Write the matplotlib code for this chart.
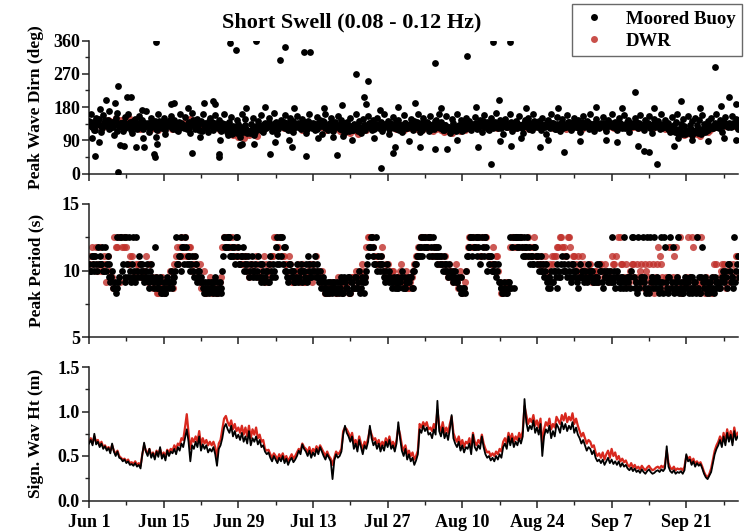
import numpy as np
import matplotlib
matplotlib.use("Agg")
import matplotlib.pyplot as plt
from matplotlib.ticker import MultipleLocator, FixedLocator
from matplotlib.lines import Line2D

plt.rcParams['font.family'] = ['Liberation Serif', 'DejaVu Serif']
plt.rcParams['font.weight'] = 'bold'

# ---------------- data ----------------
title = "Short Swell (0.08 - 0.12 Hz)"
series_names = ["Moored Buoy", "DWR"]
xtick_days = [0, 14, 28, 42, 56, 70, 84, 98, 112]
xtick_labels = ["Jun 1", "Jun 15", "Jun 29", "Jul 13", "Jul 27", "Aug 10", "Aug 24", "Sep 7", "Sep 21"]
ylabels = ["Peak Wave Dirn (deg)", "Peak Period (s)", "Sign. Wav Ht (m)"]

# peak wave direction, moored buoy (3 samples / day, on the 8-hourly grid)
buoy_dir = [
 142,160,125,118,150,135,130,112,158,145,128,170,122,140,105,150,165,128,
 138,115,152,126,160,140,110,135,148,120,155,132,145,125,168,138,112,150,
 128,142,118,160,135,124,150,108,140,132,156,120,145,130,115,162,138,126,
 152,120,140,110,165,135,128,148,118,142,160,126,135,112,150,140,122,158,
 130,145,115,138,162,124,105,140,152,128,118,145,135,100,160,122,148,110,
 115,135,150,105,128,142,120,158,112,138,126,150,132,115,165,140,108,130,
 145,125,158,132,118,150,140,112,128,155,135,120,148,130,110,142,160,125,
 136,118,152,128,145,108,140,162,122,132,150,115,138,126,155,120,145,130,
 112,140,128,150,118,135,160,125,142,110,148,132,126,155,138,118,145,128,
 150,122,138,115,160,130,142,108,128,152,135,120,145,128,112,158,136,124,
 130,148,118,142,125,160,112,138,150,126,140,115,155,132,120,145,128,162,
 140,118,132,155,125,110,148,136,122,160,130,145,115,138,150,126,142,118,
 135,152,120,128,145,112,158,132,140,118,150,126,138,165,122,145,130,108,
 148,125,138,160,115,132,142,122,155,130,110,145,128,150,136,118,162,140,
 125,142,118,150,132,108,145,128,160,138,120,152,130,115,148,135,125,158,
 140,118,132,150,126,145,112,138,155,128,142,120,160,135,115,148,130,122,
 138,152,125,115,145,132,160,128,140,118,150,135,122,158,130,145,112,138,
 128,150,140,122,158,132,118,145,136,155,125,110,148,130,142,120,160,135,
 145,125,138,112,152,130,140,162,120,135,148,128,118,155,132,142,110,150,
 130,145,120,158,135,115,142,128,150,122,138,160,126,145,112,140,152,130,
 138,125,155,132,148,120]
# peak wave direction, moored buoy (the in-between records, 3 / day)
buoy_dir_mid = [
 132,125,140,118,135,148,128,122,138,130,145,120,135,126,142,115,130,138,
 126,140,122,135,130,118,142,128,136,124,132,145,120,138,128,134,122,140,
 135,120,130,142,126,138,118,132,128,145,124,136,130,118,140,126,134,122,
 128,138,124,132,145,120,135,128,140,116,130,136,124,142,130,118,138,126,
 122,130,118,126,135,112,120,128,108,116,124,110,118,126,112,130,120,115,
 110,118,125,112,120,130,118,126,135,122,128,140,132,124,138,128,120,134,
 130,140,124,136,128,118,142,130,126,138,122,134,128,140,120,132,136,124,
 126,134,120,138,128,142,124,130,118,136,128,122,140,130,126,134,118,138,
 120,126,115,128,118,124,130,116,126,122,132,118,128,136,124,130,120,134,
 132,126,140,122,134,128,120,136,130,124,142,128,118,132,126,138,124,130,
 128,136,122,130,140,124,132,118,128,138,126,134,120,130,142,126,136,122,
 124,118,130,122,126,114,120,128,116,124,132,118,126,120,130,124,134,128,
 130,138,124,134,128,142,126,132,120,136,130,124,140,128,134,122,130,138,
 126,134,128,140,122,132,136,126,130,124,138,128,132,120,134,128,142,130,
 128,136,122,132,126,140,130,124,136,128,120,134,130,138,124,132,126,140,
 132,124,138,128,134,122,130,140,126,132,128,136,124,130,138,126,134,128,
 130,136,124,132,128,138,126,134,122,130,136,128,132,124,140,130,126,134,
 128,134,126,138,130,124,132,128,136,122,130,134,126,138,128,132,124,130,
 126,120,128,116,122,112,118,110,114,106,112,108,116,110,120,104,112,118,
 110,116,106,120,112,124,118,128,122,132,126,130,124,134,128,136,130,126,
 132,128,136,130,126,134]
# scattered buoy directions away from the main band (day, deg)
buoy_dir_extra_day = [
 12.5,26.5,27.5,31.25,35.9,36.8,40.4,41.5,50.1,52.4,51.6,52.0,64.9,70.9,75.8,78.9,
 117.3,102.3,120.1,121.4,111.1,76.9,61.1,54.5,
 5.4,3.25,7.2,7.9,4.8,15.4,16.0,21.5,23.25,23.7,29.5,2.0,10.0,18.5,33.0,38.5,44.0,
 47.5,58.0,66.0,72.5,82.0,88.0,95.0,100.0,106.0,114.5,118.5,
 1.1,5.4,12.2,12.3,19.25,24.4,24.4,33.9,40.6,46.5,54.8,75.3,106.5,89.0,84.5,79.2,
 67.1,64.8,57.0,57.3,62.1,73.0,103.0,104.0,105.0,109.7,121.4,119.0,
 1.9,0.5,5.75,6.5,8.9,10.4,10.2,12.8,12.5,20.75,24.5,28.25,28.75,31.0,34.8,38.0,
 37.5,43.0,45.75,47.6,49.4,53.5,60.0,69.0,77.0,81.0,86.0,92.0,97.0,99.0,110.5,113.0,116.0]
buoy_dir_extra = [
 356,353,333,360,306,342,328,328,270,251,206,188,300,319,355,355,
 288,220,208,188,197,199,190,172,
 237,200,206,208,190,188,192,190,197,188,176,175,172,178,180,178,176,
 185,180,178,180,178,176,180,178,176,178,182,
 47,5,52,44,56,52,45,52,47,51,15,27,27,59,72,74,
 65,65,56,72,72,72,75,62,58,74,92,95,
 86,95,77,75,72,72,95,81,100,100,90,77,80,80,86,72,
 90,97,98,102,90,95,88,92,88,95,90,88,92,85,95,90,88]

# peak wave direction, DWR (2 samples / day)
dwr_dir = [
 140,128,135,148,130,122,138,145,142,132,150,138,
 145,135,140,150,138,128,132,120,125,135,128,118,
 122,130,118,128,125,135,130,120,128,138,132,125,
 140,132,148,138,145,130,135,125,128,120,130,122,
 125,118,120,128,118,110,105,112,100,108,95,115,
 105,110,112,102,118,125,122,130,128,118,125,132,
 130,122,128,135,120,125,132,128,118,124,126,130,
 128,122,135,125,130,118,125,132,120,128,115,122,
 112,118,110,122,115,108,120,125,118,128,122,130,
 128,135,125,130,132,122,128,120,125,132,118,126,
 124,130,128,120,125,118,122,128,130,115,120,126,
 118,112,115,122,110,118,120,114,125,118,122,128,
 126,132,128,120,135,128,125,132,130,122,128,135,
 132,125,130,128,122,130,128,135,125,120,130,126,
 128,132,125,130,135,128,122,130,128,125,132,120,
 126,130,132,125,128,120,130,135,125,128,132,126,
 130,125,128,132,126,122,130,128,125,132,128,124,
 126,130,122,128,125,132,128,120,126,130,122,128,
 120,125,118,122,115,110,112,105,108,112,104,110,
 108,102,110,115,112,118,122,128,125,130,132,128,
 130,135,128,132]

# peak period, moored buoy (3 samples / day)
buoy_tp = [
 10.5,10.0,11.1, 10.0,10.5,11.8, 11.1,10.5,10.0, 11.8,10.5,9.5, 9.1,10.0,8.7, 8.3,12.5,9.5,
 12.5,10.5,9.1, 12.5,9.5,10.0, 10.5,12.5,9.1, 10.0,11.1,9.5, 10.5,9.1,10.0, 9.5,8.7,10.5,
 9.1,11.8,8.7, 8.7,9.5,8.3, 9.1,8.3,9.5, 8.7,10.0,9.1, 9.5,12.5,10.5, 11.1,10.0,11.8,
 12.5,10.5,11.1, 10.0,11.1,9.5, 10.5,9.1,10.0, 9.5,8.7,9.1, 8.3,9.1,8.7, 8.7,8.3,9.5,
 9.1,8.7,8.3, 10.0,12.5,11.8, 11.8,12.5,11.1, 11.1,10.5,12.5, 11.8,10.5,11.1, 10.0,11.1,10.5,
 9.5,10.5,10.0, 10.0,9.5,11.1, 10.5,9.1,10.0, 9.5,10.0,9.1, 11.1,9.5,10.0, 11.8,12.5,10.5,
 11.1,10.5,11.8, 10.0,9.1,10.5, 9.5,10.0,9.1, 10.5,9.5,10.0, 9.1,10.0,10.5, 11.1,10.0,9.5,
 10.5,11.1,10.0, 9.5,10.0,9.1, 8.7,9.1,8.3, 8.3,8.7,9.1, 9.1,8.3,8.7, 8.7,9.5,8.3,
 9.1,8.7,9.5, 8.3,9.1,8.7, 9.5,8.7,10.0, 8.7,9.1,9.5, 10.0,11.1,11.8, 12.5,11.1,10.5,
 10.0,10.5,11.1, 10.5,9.5,10.0, 9.5,10.0,9.1, 9.1,8.7,9.5, 8.7,9.1,10.0, 9.5,8.7,9.1,
 9.1,9.5,8.7, 10.0,10.5,11.1, 11.1,11.8,12.5, 12.5,11.8,12.5, 12.5,11.1,11.8, 11.8,10.5,11.1,
 11.1,10.0,10.5, 10.5,9.5,10.0, 9.5,9.1,10.0, 9.1,8.7,9.5, 8.3,8.7,10.0, 11.1,11.8,12.5,
 12.5,11.8,11.1, 11.8,10.5,12.5, 11.1,12.5,10.0, 10.5,11.1,10.0, 10.0,9.5,10.5, 9.1,8.7,8.3,
 8.7,8.3,9.1, 12.5,11.8,8.7, 12.5,12.5,11.8, 12.5,11.1,11.8, 11.8,11.1,10.5, 11.1,10.5,11.8,
 10.5,10.0,11.1, 10.0,9.5,10.5, 8.7,9.5,10.0, 9.1,10.0,8.7, 10.0,9.5,11.1, 10.5,10.0,9.5,
 10.0,9.1,10.5, 9.5,10.0,8.7, 10.5,9.5,10.0, 10.0,9.1,9.5, 9.5,10.0,9.1, 9.1,9.5,10.5,
 10.0,8.7,9.5, 9.5,9.1,10.0, 12.5,9.5,8.7, 10.0,9.1,9.5, 9.5,12.5,8.7, 9.1,9.5,10.0,
 12.5,8.7,9.1, 12.5,9.1,9.5, 9.5,8.7,12.5, 8.3,9.1,9.5, 12.5,8.7,9.1, 9.1,12.5,8.3,
 11.8,8.7,9.5, 12.5,9.1,8.3, 8.7,9.5,8.3, 9.1,8.3,8.7, 8.7,9.1,9.5, 8.3,8.7,9.1,
 12.5,9.5,8.3, 11.8,8.7,9.1, 9.1,8.3,8.7, 8.7,9.5,9.1, 9.1,8.7,9.5, 9.5,10.0,8.7,
 10.5,9.1,9.5, 12.5,10.0,11.1]
# peak period, moored buoy (the in-between records, 3 / day)
buoy_tp_mid = [
 10.0,11.1,10.5, 11.1,10.0,10.5, 10.5,11.8,10.0, 10.0,11.1,10.5, 9.5,8.7,9.1, 8.7,9.1,12.5,
 10.0,12.5,9.5, 10.5,12.5,9.1, 9.5,10.0,12.5, 9.5,10.5,10.0, 10.0,9.5,10.5, 9.1,10.0,9.5,
 8.7,9.5,9.1, 9.1,8.3,8.7, 8.3,8.7,9.1, 9.1,8.7,9.5, 10.0,10.5,11.1, 12.5,11.8,10.5,
 11.8,11.1,10.5, 10.5,10.0,11.1, 9.5,10.0,9.1, 9.1,8.3,8.7, 8.7,8.3,9.1, 9.1,8.7,8.3,
 8.3,9.1,8.7, 11.1,11.8,12.5, 12.5,11.1,11.8, 11.8,12.5,11.1, 10.5,11.1,11.8, 10.5,10.0,11.1,
 10.0,11.1,9.5, 10.5,10.0,9.5, 9.5,10.5,9.1, 10.0,9.1,10.5, 10.0,10.5,9.5, 10.5,11.1,12.5,
 12.5,11.8,10.0, 9.5,10.5,10.0, 10.0,9.1,9.5, 9.1,10.0,10.5, 10.0,9.5,9.1, 10.5,9.5,10.0,
 10.0,9.5,10.5, 9.1,8.7,9.5, 8.3,8.7,9.1, 9.1,8.3,8.7, 8.7,9.1,8.3, 9.1,8.3,9.5,
 8.7,9.5,8.3, 9.1,8.7,9.5, 8.7,9.1,8.3, 9.5,8.3,9.1, 10.5,11.8,12.5, 11.8,10.5,12.5,
 11.1,10.0,10.5, 10.0,9.1,10.5, 9.1,9.5,8.7, 9.5,9.1,8.7, 9.1,9.5,8.7, 8.7,9.1,9.5,
 9.5,8.7,10.0, 10.5,11.1,11.8, 12.5,11.1,11.8, 11.8,12.5,11.1, 11.8,12.5,11.1, 11.1,11.8,10.5,
 10.5,11.1,10.0, 10.0,10.5,9.5, 10.0,9.5,9.1, 9.5,8.7,8.3, 8.7,8.3,11.1, 11.8,12.5,11.1,
 11.8,12.5,12.5, 12.5,11.1,11.8, 12.5,11.8,11.1, 11.1,10.0,10.5, 10.5,10.0,9.1, 8.7,8.3,9.1,
 8.3,9.1,8.7, 8.7,12.5,12.5, 11.8,12.5,12.5, 11.8,12.5,11.1, 12.5,11.8,11.1, 10.5,11.8,11.1,
 11.1,10.5,10.0, 10.5,10.0,9.1, 9.5,8.7,9.1, 10.0,9.5,10.5, 9.5,10.5,10.0, 10.0,11.1,10.5,
 9.5,10.5,10.0, 10.0,9.1,9.5, 9.5,10.0,9.1, 9.5,10.5,10.0, 10.0,9.1,9.5, 10.5,9.1,10.0,
 9.1,10.0,9.5, 10.0,9.5,9.1, 9.1,10.0,9.5, 9.5,8.7,9.1, 8.7,9.1,9.5, 9.5,8.7,12.5,
 9.5,9.1,8.3, 8.7,9.5,12.5, 9.1,8.3,8.7, 12.5,9.5,8.7, 9.1,9.5,8.3, 8.7,9.1,12.5,
 9.1,8.3,9.5, 8.7,11.8,9.1, 9.1,12.5,8.7, 8.3,9.1,9.5, 9.1,8.3,8.7, 9.5,9.1,8.3,
 8.7,8.3,9.5, 9.1,9.5,8.3, 8.7,9.1,9.5, 8.3,8.7,9.1, 8.7,9.1,10.0, 9.1,9.5,10.5,
 10.0,9.5,8.7, 9.1,10.5,9.5]

# peak period, DWR (2 samples / day)
dwr_tp = [
 10.5,11.8,11.1,10.0,11.8,10.5,10.5,11.1,9.5,8.7,11.8,12.5,
 12.5,11.8,11.8,10.5,11.1,9.5,10.0,10.5,9.5,10.0,9.1,10.5,
 8.7,9.5,8.3,9.1,8.3,8.7,9.1,10.0,10.5,11.8,11.8,11.1,
 12.5,11.1,11.8,10.5,10.5,10.0,8.7,10.0,8.3,9.1,8.3,8.7,
 8.3,9.1,11.8,12.5,12.5,11.8,11.8,11.1,11.1,10.5,10.5,11.1,
 9.5,10.5,10.0,10.5,9.5,10.5,9.1,10.0,10.5,11.1,12.5,11.8,
 12.5,11.1,10.5,11.1,9.1,9.5,10.0,9.1,10.5,9.1,10.0,10.5,
 10.5,11.1,10.0,9.5,8.7,8.3,8.3,9.1,8.7,8.3,9.1,8.3,
 8.7,9.1,8.3,9.5,10.0,9.1,9.5,10.0,11.8,12.5,12.5,11.1,
 11.1,10.5,11.8,10.0,10.5,9.5,10.0,9.1,9.5,10.5,9.1,10.0,
 8.7,9.5,10.5,11.1,11.8,12.5,12.5,11.8,12.5,11.1,11.8,10.5,
 11.1,10.5,10.0,10.5,10.0,9.5,9.1,10.0,8.3,9.1,11.8,12.5,
 12.5,11.8,12.5,11.1,11.8,12.5,11.1,10.5,10.5,11.1,9.1,8.3,
 8.7,9.1,11.8,12.5,12.5,11.8,12.5,11.8,11.8,11.1,11.1,12.5,
 11.1,10.5,10.5,11.1,9.5,10.5,10.5,11.1,11.8,12.5,11.8,11.1,
 12.5,10.5,11.1,10.0,10.5,11.1,9.5,10.0,10.5,9.5,10.0,9.1,
 10.5,9.5,10.0,9.1,11.1,10.5,9.5,12.5,10.5,9.1,9.5,10.0,
 10.5,9.1,9.5,10.5,8.7,10.0,10.5,9.1,8.3,10.5,11.1,9.5,
 9.1,8.7,11.8,9.5,11.8,8.7,8.3,9.1,9.5,8.7,12.5,9.1,
 12.5,8.7,9.1,8.3,8.7,9.1,9.5,10.5,9.1,10.0,10.5,8.7,
 10.5,9.5,10.0,11.1]
# peak period, DWR (the in-between records, 2 / day)
dwr_tp_mid = [
 11.1,10.5,11.8,10.5,10.0,11.1,9.1,10.0,9.5,12.5,11.8,9.1,
 11.8,12.5,10.5,11.1,9.5,10.5,10.5,9.5,10.0,11.1,10.5,9.5,
 9.1,8.3,8.7,9.5,8.7,9.1,10.0,8.7,11.1,10.5,12.5,11.8,
 11.1,11.8,10.0,11.1,9.5,10.5,9.1,8.3,8.7,9.5,9.1,8.3,
 8.7,9.5,12.5,11.8,11.8,12.5,11.1,11.8,10.5,11.1,11.1,10.0,
 10.5,10.0,11.1,9.5,10.0,11.1,10.5,9.5,11.1,12.5,11.8,12.5,
 11.1,10.5,9.5,10.5,9.1,10.0,10.5,9.5,9.1,9.5,10.5,9.1,
 10.0,9.5,9.1,10.0,8.3,8.7,9.1,8.7,8.3,9.5,8.7,9.1,
 9.1,8.3,9.5,8.7,9.5,10.0,10.5,9.5,12.5,11.8,11.8,10.5,
 10.5,11.1,10.0,10.5,9.5,10.0,9.1,9.5,10.0,9.1,9.5,8.7,
 9.1,10.0,11.1,11.8,12.5,11.8,11.8,12.5,11.1,11.8,11.1,10.5,
 10.5,11.1,9.5,10.0,9.1,10.5,8.7,9.5,8.7,10.0,12.5,11.8,
 11.8,12.5,11.1,12.5,12.5,11.1,10.5,11.8,11.1,10.0,8.3,8.7,
 9.1,8.7,12.5,11.8,11.8,12.5,11.8,11.1,12.5,11.8,11.8,11.1,
 10.5,11.1,10.0,10.5,10.0,11.1,11.1,11.8,12.5,11.8,11.1,12.5,
 11.8,11.1,10.5,11.1,10.0,10.5,10.0,10.5,9.1,10.0,9.5,10.5,
 10.0,10.5,9.5,10.0,10.5,11.1,12.5,10.5,9.5,10.5,9.1,10.5,
 9.5,10.5,10.0,9.1,10.5,9.5,9.1,10.5,9.5,11.8,10.5,8.7,
 9.5,11.8,8.7,11.1,9.5,12.5,9.1,8.7,12.5,9.5,11.8,8.7,
 9.1,12.5,8.7,9.5,9.1,8.3,10.5,9.1,9.5,10.5,9.1,10.0,
 9.1,10.5,11.1,9.5]

# significant wave height, moored buoy (3 samples / day)
buoy_hs = [
 0.64,0.68,0.62, 0.75,0.63,0.66, 0.60,0.64,0.58, 0.61,0.56,0.59, 0.53,0.64,0.55, 0.50,0.55,0.48,
 0.47,0.44,0.46, 0.42,0.44,0.40, 0.41,0.39,0.42, 0.38,0.40,0.36, 0.52,0.65,0.55, 0.50,0.58,0.48,
 0.53,0.46,0.55, 0.49,0.60,0.47, 0.52,0.45,0.56, 0.50,0.55,0.53, 0.58,0.52,0.60, 0.56,0.64,0.60,
 0.70,0.80,0.66, 0.44,0.62,0.58, 0.66,0.60,0.72, 0.56,0.63,0.58, 0.62,0.54,0.58, 0.55,0.60,0.52,
 0.39,0.58,0.62, 0.70,0.82,0.86, 0.80,0.76,0.84, 0.72,0.78,0.70, 0.74,0.68,0.76, 0.66,0.72,0.64,
 0.78,0.62,0.70, 0.66,0.72,0.63, 0.68,0.60,0.62, 0.55,0.52,0.54, 0.48,0.44,0.50, 0.46,0.42,0.48,
 0.44,0.50,0.42, 0.47,0.40,0.45, 0.48,0.43,0.46, 0.50,0.56,0.52, 0.63,0.58,0.55, 0.50,0.56,0.48,
 0.54,0.50,0.58, 0.52,0.60,0.55, 0.50,0.46,0.52, 0.48,0.44,0.24, 0.45,0.52,0.48, 0.50,0.55,0.74,
 0.84,0.76,0.72, 0.66,0.72,0.58, 0.64,0.55,0.68, 0.60,0.52,0.62, 0.58,0.66,0.84, 0.70,0.62,0.66,
 0.58,0.64,0.55, 0.62,0.56,0.66, 0.60,0.68,0.58, 0.62,0.55,0.64, 0.88,0.70,0.56, 0.50,0.58,0.46,
 0.52,0.44,0.48, 0.40,0.45,0.52, 0.80,0.76,0.84, 0.78,0.82,0.74, 0.76,0.70,0.80, 0.74,1.12,0.78,
 0.72,0.82,0.70, 0.76,0.68,0.80, 0.96,0.70,0.64, 0.60,0.66,0.56, 0.62,0.54,0.60, 0.58,0.64,0.52,
 0.74,0.60,0.56, 0.62,0.58,0.72, 0.60,0.52,0.48, 0.50,0.45,0.48, 0.44,0.50,0.46, 0.52,0.48,0.60,
 0.64,0.58,0.72, 0.62,0.70,0.60, 0.66,0.62,0.70, 0.64,0.72,1.14, 0.88,0.78,0.84, 0.80,0.90,0.76,
 0.82,0.74,0.86, 0.50,0.72,0.80, 0.76,0.84,0.70, 0.78,0.72,0.86, 0.82,0.76,0.88, 0.80,0.86,0.78,
 0.84,0.80,0.88, 0.76,0.82,0.74, 0.70,0.64,0.68, 0.62,0.56,0.60, 0.58,0.52,0.56, 0.48,0.44,0.46,
 0.42,0.46,0.40, 0.44,0.48,0.42, 0.46,0.41,0.44, 0.40,0.44,0.38, 0.42,0.38,0.40, 0.36,0.34,0.37,
 0.33,0.36,0.32, 0.34,0.31,0.35, 0.32,0.30,0.33, 0.35,0.32,0.30, 0.31,0.33,0.34, 0.32,0.35,0.33,
 0.36,0.61,0.38, 0.33,0.31,0.34, 0.30,0.32,0.31, 0.33,0.30,0.34, 0.52,0.44,0.46, 0.40,0.44,0.38,
 0.42,0.39,0.41, 0.36,0.30,0.26, 0.24,0.28,0.32, 0.42,0.52,0.58, 0.62,0.68,0.60, 0.72,0.62,0.76,
 0.66,0.74,0.62, 0.78,0.68,0.72]

# significant wave height, DWR (3 samples / day)
dwr_hs = [
 0.66,0.70,0.64, 0.72,0.66,0.68, 0.62,0.66,0.60, 0.62,0.58,0.60, 0.56,0.62,0.56, 0.52,0.56,0.50,
 0.48,0.46,0.47, 0.44,0.46,0.42, 0.43,0.41,0.44, 0.40,0.42,0.39, 0.52,0.62,0.56, 0.53,0.58,0.50,
 0.54,0.49,0.56, 0.52,0.58,0.50, 0.54,0.49,0.57, 0.54,0.58,0.56, 0.62,0.58,0.64, 0.62,0.70,0.68,
 0.82,0.97,0.76, 0.58,0.70,0.66, 0.72,0.66,0.78, 0.62,0.70,0.64, 0.68,0.62,0.66, 0.62,0.66,0.60,
 0.48,0.64,0.68, 0.80,0.92,0.95, 0.88,0.84,0.90, 0.80,0.86,0.78, 0.82,0.76,0.84, 0.74,0.82,0.72,
 0.84,0.70,0.80, 0.74,0.82,0.70, 0.74,0.66,0.68, 0.58,0.56,0.57, 0.52,0.48,0.53, 0.50,0.46,0.52,
 0.48,0.53,0.46, 0.50,0.44,0.48, 0.52,0.47,0.50, 0.54,0.58,0.56, 0.64,0.60,0.58, 0.54,0.60,0.52,
 0.58,0.55,0.61, 0.56,0.62,0.58, 0.54,0.50,0.55, 0.50,0.47,0.40, 0.48,0.55,0.52, 0.54,0.58,0.78,
 0.82,0.80,0.76, 0.70,0.76,0.64, 0.68,0.60,0.72, 0.64,0.58,0.66, 0.62,0.70,0.80, 0.74,0.68,0.70,
 0.64,0.68,0.60, 0.66,0.62,0.70, 0.64,0.72,0.62, 0.66,0.60,0.68, 0.82,0.74,0.62, 0.56,0.62,0.52,
 0.56,0.50,0.54, 0.46,0.50,0.56, 0.86,0.82,0.88, 0.84,0.88,0.80, 0.82,0.78,0.86, 0.80,1.02,0.84,
 0.78,0.88,0.76, 0.82,0.76,0.86, 0.94,0.76,0.70, 0.66,0.72,0.62, 0.68,0.60,0.66, 0.64,0.70,0.58,
 0.76,0.66,0.62, 0.68,0.64,0.74, 0.64,0.58,0.54, 0.55,0.50,0.53, 0.50,0.55,0.52, 0.58,0.55,0.66,
 0.70,0.64,0.76, 0.68,0.75,0.66, 0.72,0.68,0.76, 0.70,0.78,1.06, 0.96,0.86,0.92, 0.88,0.96,0.84,
 0.90,0.82,0.92, 0.62,0.80,0.88, 0.84,0.92,0.80, 0.86,0.82,0.94, 0.90,0.86,0.96, 0.90,0.98,0.88,
 0.94,0.90,0.98, 0.86,0.92,0.84, 0.78,0.72,0.76, 0.70,0.64,0.68, 0.66,0.60,0.62, 0.54,0.50,0.53,
 0.48,0.54,0.46, 0.52,0.56,0.48, 0.58,0.50,0.54, 0.46,0.50,0.44, 0.47,0.43,0.45, 0.40,0.38,0.42,
 0.37,0.40,0.36, 0.38,0.35,0.39, 0.36,0.34,0.37, 0.39,0.36,0.34, 0.35,0.37,0.38, 0.36,0.39,0.37,
 0.40,0.56,0.42, 0.37,0.35,0.38, 0.34,0.36,0.35, 0.36,0.34,0.38, 0.50,0.47,0.49, 0.43,0.47,0.41,
 0.44,0.41,0.43, 0.38,0.32,0.28, 0.26,0.30,0.36, 0.46,0.56,0.62, 0.66,0.72,0.64, 0.76,0.66,0.80,
 0.70,0.78,0.66, 0.82,0.72,0.76]

# sample times (days since Jun 1)
t_dir = np.arange(len(buoy_dir)) / 3.0
t_dir_mid = (np.arange(len(buoy_dir_mid)) + 0.5) / 3.0
t_dir_dwr = np.arange(len(dwr_dir)) / 2.0
t_tp = np.arange(len(buoy_tp)) / 3.0
t_tp_mid = (np.arange(len(buoy_tp_mid)) + 0.5) / 3.0
t_tp_dwr = np.arange(len(dwr_tp)) / 2.0
t_tp_dwr_mid = (np.arange(len(dwr_tp_mid)) + 0.5) / 2.0
t_hs = np.arange(len(buoy_hs)) / 3.0
t_hs_dwr = np.arange(len(dwr_hs)) / 3.0

# ---------------- figure ----------------
W, H = 756, 532
fig = plt.figure(figsize=(W / 100, H / 100), dpi=100)

left = 89 / W
width = (738 - 89) / W
def ax_rect(top_px, bot_px):
    return [left, 1 - bot_px / H, width, (bot_px - top_px) / H]

ax1 = fig.add_axes(ax_rect(40.5, 173.5))
ax2 = fig.add_axes(ax_rect(204, 337))
ax3 = fig.add_axes(ax_rect(367, 500.5))

BLACK = '#000000'
RED = '#c0302a'
S_BLK = 24
S_RED = 26

ax1.scatter(t_dir_dwr, dwr_dir, s=S_RED, color=RED, alpha=0.85, linewidths=0, zorder=2)
ax1.scatter(t_dir, buoy_dir, s=S_BLK, color=BLACK, linewidths=0, zorder=3)
ax1.scatter(t_dir_mid, buoy_dir_mid, s=S_BLK, color=BLACK, linewidths=0, zorder=3)
ax1.scatter(buoy_dir_extra_day, buoy_dir_extra, s=S_BLK, color=BLACK, linewidths=0, zorder=3)

ax2.scatter(t_tp_dwr, dwr_tp, s=S_RED, color=RED, alpha=0.8, linewidths=0, zorder=2)
ax2.scatter(t_tp_dwr_mid, dwr_tp_mid, s=S_RED, color=RED, alpha=0.8, linewidths=0, zorder=2)
ax2.scatter(t_tp, buoy_tp, s=S_BLK, color=BLACK, linewidths=0, zorder=3)
ax2.scatter(t_tp_mid, buoy_tp_mid, s=S_BLK, color=BLACK, linewidths=0, zorder=3)

ax3.plot(t_hs_dwr, dwr_hs, color='#d8281e', lw=1.6, zorder=2)
ax3.plot(t_hs, buoy_hs, color=BLACK, lw=1.3, zorder=3)

ax1.set_ylim(0, 360)
ax1.yaxis.set_major_locator(FixedLocator([0, 90, 180, 270, 360]))
ax1.yaxis.set_minor_locator(MultipleLocator(45))
ax2.set_ylim(5, 15)
ax2.yaxis.set_major_locator(FixedLocator([5, 10, 15]))
ax2.yaxis.set_minor_locator(MultipleLocator(2.5))
ax3.set_ylim(0, 1.5)
ax3.yaxis.set_major_locator(FixedLocator([0.0, 0.5, 1.0, 1.5]))
ax3.yaxis.set_minor_locator(MultipleLocator(0.25))
ax3.set_yticklabels(["0.0", "0.5", "1.0", "1.5"])

for ax, lab in zip([ax1, ax2, ax3], ylabels):
    ax.set_xlim(0, 121.7)
    ax.xaxis.set_major_locator(FixedLocator(xtick_days))
    ax.xaxis.set_minor_locator(MultipleLocator(7))
    for sp in ['top', 'right']:
        ax.spines[sp].set_visible(False)
    for sp in ['left', 'bottom']:
        ax.spines[sp].set_linewidth(1.1)
        ax.spines[sp].set_color('#222222')
    ax.tick_params(which='major', direction='out', length=5, width=1.1, labelsize=13, pad=1.5, color='#222222')
    ax.tick_params(which='minor', direction='out', length=3, width=1.0, color='#222222')
    ax.set_ylabel(lab, fontsize=12.5, fontweight='bold')
    ax.yaxis.set_label_coords(-0.069, 0.5)
    ax.set_facecolor('none')

ax1.set_xticklabels([])
ax2.set_xticklabels([])
ax3.set_xticklabels(xtick_labels)
ax3.tick_params(axis='x', which='major', pad=5)

fig.text(352 / W, 1 - 22 / H, title, ha='center', va='center', fontsize=16, fontweight='bold')

handles = [Line2D([], [], ls='none', marker='o', ms=5, color=BLACK, mec='none'),
           Line2D([], [], ls='none', marker='o', ms=5, color=RED, mec='none', alpha=0.85)]
leg = fig.legend(handles, series_names, loc='upper right', bbox_to_anchor=(742 / W, 1 - 4 / H),
                 frameon=True, fancybox=False, edgecolor='#444444', fontsize=13.5,
                 handletextpad=0.9, borderpad=0.35, labelspacing=0.25, handlelength=1.6,
                 borderaxespad=0)
leg.get_frame().set_linewidth(1.0)
for txt in leg.get_texts():
    txt.set_fontweight('bold')

fig.savefig("out.png", dpi=100)
